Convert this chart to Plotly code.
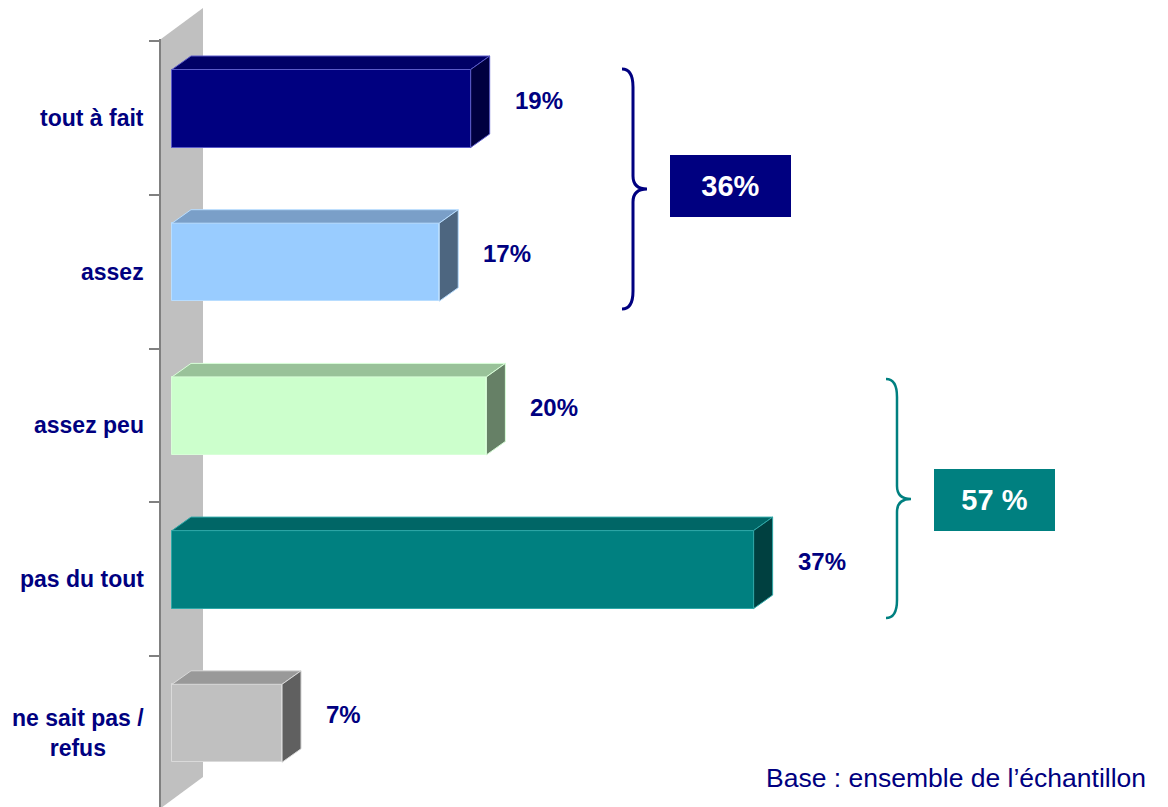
import plotly.graph_objects as go

# ---------------- data ----------------
categories = ["tout à fait", "assez", "assez peu", "pas du tout", "ne sait pas /<br>refus"]
values = [19, 17, 20, 37, 7]
group_members = [[0, 1], [2, 3]]
group_fmt = ["{}%", "{} %"]

# ---------------- styling ----------------
front_colors = ["#000080", "#99CCFF", "#CCFFCC", "#008080", "#C0C0C0"]
top_colors = ["#000066", "#7A9FC8", "#99C299", "#006666", "#999999"]
side_colors = ["#000040", "#4D6680", "#668066", "#004040", "#606060"]
edge_colors = ["#5A5AC8", "#B8DDFF", "#D8FFD8", "#2FA8A8", "#DADADA"]
group_colors = ["#000080", "#008080"]
NAVY = "#000080"
FONT = "Arial, Liberation Sans, sans-serif"

W, H = 1168, 807
L, T = 161, 39                # plot area left / top in pixels
PLOT_W, PLOT_H = W - L, H - T
X0_PX, PX_PER_UNIT = 172, 15.72   # pixel of value 0, pixels per %
CAT0_PX, PX_PER_CAT = 118, 153.7  # pixel of first category centre, spacing

xmin = (L - X0_PX) / PX_PER_UNIT
xmax = (W - X0_PX) / PX_PER_UNIT
ymin = (T - CAT0_PX) / PX_PER_CAT
ymax = (H - CAT0_PX) / PX_PER_CAT

bar_h = 78 / PX_PER_CAT
bar_off = -9.5 / PX_PER_CAT
dx = 19 / PX_PER_UNIT
dy = 13.5 / PX_PER_CAT


def px(xp):
    return (xp - L) / PLOT_W


def py(yp):
    return (H - yp) / PLOT_H


fig = go.Figure()

# front faces
ypos = [i + bar_off for i in range(len(values))]
fig.add_trace(go.Bar(
    x=values, y=ypos, orientation="h", width=bar_h, base=0,
    marker=dict(color=front_colors, line=dict(color=edge_colors, width=1)),
    showlegend=False, hoverinfo="skip"))

# top and side faces
for i, v in enumerate(values):
    yc = ypos[i]
    yt = yc - bar_h / 2
    yb = yc + bar_h / 2
    fig.add_trace(go.Scatter(
        x=[0, v, v + dx, dx, 0], y=[yt, yt, yt - dy, yt - dy, yt],
        fill="toself", fillcolor=top_colors[i], mode="lines",
        line=dict(color=edge_colors[i], width=1), showlegend=False, hoverinfo="skip"))
    fig.add_trace(go.Scatter(
        x=[v, v + dx, v + dx, v, v], y=[yt, yt - dy, yb - dy, yb, yt],
        fill="toself", fillcolor=side_colors[i], mode="lines",
        line=dict(color=edge_colors[i], width=1), showlegend=False, hoverinfo="skip"))

annotations = []
# value labels
for i, v in enumerate(values):
    annotations.append(dict(
        x=v + 42 / PX_PER_UNIT, y=i - 18 / PX_PER_CAT, xref="x", yref="y",
        text=f"<b>{v}%</b>", showarrow=False, xanchor="left", yanchor="middle",
        font=dict(family=FONT, size=24, color=NAVY)))

# category labels
for i, c in enumerate(categories):
    annotations.append(dict(
        x=px(146), y=i, xref="paper", yref="y",
        text=f"<b>{c}</b>", showarrow=False, xanchor="right", yanchor="middle",
        align="center", font=dict(family=FONT, size=23, color=NAVY)))

# group boxes
box_centres = [(730.5, 186), (994.5, 500)]
for g, members in enumerate(group_members):
    total = sum(values[m] for m in members)
    cx, cy = box_centres[g]
    annotations.append(dict(
        x=px(cx), y=py(cy), xref="paper", yref="paper",
        text="<b>" + group_fmt[g].format(total) + "</b>", showarrow=False,
        xanchor="center", yanchor="middle", width=121, height=62,
        bgcolor=group_colors[g], borderpad=0, borderwidth=0, valign="middle",
        font=dict(family=FONT, size=29, color="white")))

# base note
annotations.append(dict(
    x=px(1148), y=py(778), xref="paper", yref="paper",
    text="Base : ensemble de l’échantillon", showarrow=False,
    xanchor="right", yanchor="middle",
    font=dict(family=FONT, size=26.5, color=NAVY)))

shapes = []
# back wall
wall = [(161, 39), (203, 8), (203, 777), (161, 808)]
path = "M " + " L ".join(f"{px(a):.5f},{py(b):.5f}" for a, b in wall) + " Z"
shapes.append(dict(type="path", path=path, xref="paper", yref="paper",
                   fillcolor="#C0C0C0", line=dict(width=0), layer="below"))


def brace(xb, xs, xt, yt, ym, yb, r=18, rm=13):
    pts = [
        ("M", [(xb, yt)]),
        ("Q", [(xs, yt), (xs, yt + r)]),
        ("L", [(xs, ym - rm)]),
        ("Q", [(xs, ym), (xt, ym)]),
        ("Q", [(xs, ym), (xs, ym + rm)]),
        ("L", [(xs, yb - r)]),
        ("Q", [(xs, yb), (xb, yb)]),
    ]
    s = ""
    for cmd, ps in pts:
        s += cmd + " " + " ".join(f"{px(a):.5f},{py(b):.5f}" for a, b in ps) + " "
    return s.strip()


shapes.append(dict(type="path", path=brace(622, 633, 647, 69, 189, 309),
                   xref="paper", yref="paper", line=dict(color=group_colors[0], width=3)))
shapes.append(dict(type="path", path=brace(886, 897, 911, 379, 499, 618),
                   xref="paper", yref="paper", line=dict(color=group_colors[1], width=2.5)))

fig.update_layout(
    width=W, height=H,
    margin=dict(l=L, r=0, t=T, b=0, pad=0),
    paper_bgcolor="white", plot_bgcolor="rgba(0,0,0,0)",
    xaxis=dict(range=[xmin, xmax], visible=False, fixedrange=True),
    yaxis=dict(range=[ymax, ymin], showgrid=False, zeroline=False,
               showline=True, linecolor="#808080", linewidth=2,
               tickvals=[k - 0.5 for k in range(len(categories))],
               ticks="outside", ticklen=10, tickwidth=2, tickcolor="#808080",
               showticklabels=False, fixedrange=True),
    annotations=annotations, shapes=shapes, showlegend=False,
    bargap=0,
)

fig.write_html(
    "out.html",
    config={"displayModeBar": False},
    post_script="document.body.style.margin='0px';document.body.style.overflow='hidden';",
)
